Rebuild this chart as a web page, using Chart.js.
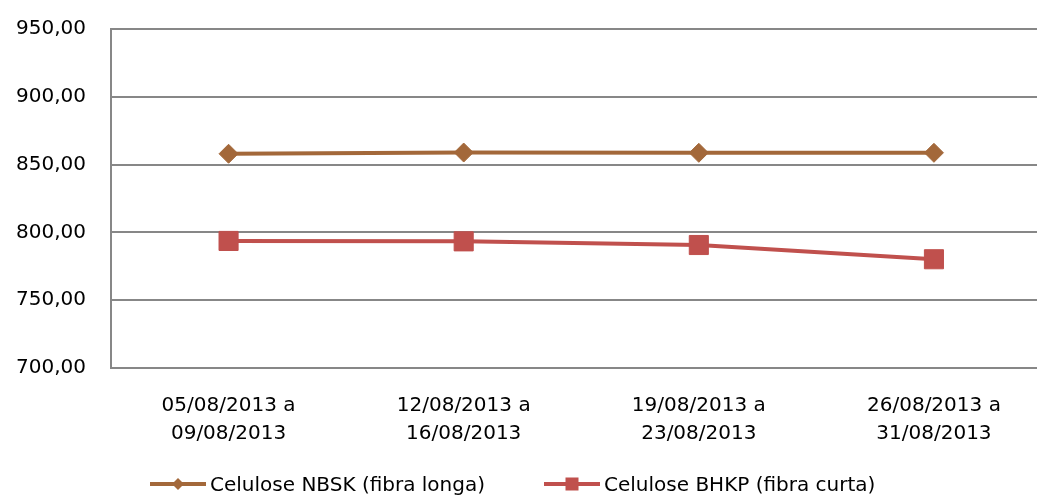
<!DOCTYPE html>
<html>
<head>
<meta charset="utf-8">
<script src="https://cdn.jsdelivr.net/npm/chart.js@4"></script>
<style>
  html, body { margin: 0; padding: 0; background: #fff; }
  #wrap { position: relative; width: 1037px; height: 496px; overflow: hidden; }
  #chart { position: absolute; left: 0; top: 0; }
  .legend-item { position: absolute; top: 472px; display: flex; align-items: center;
    font-family: "DejaVu Sans", sans-serif; font-size: 20px; color: #000; white-space: nowrap; }
  .legend-item svg { margin-right: 4px; }
</style>
</head>
<body>
<div id="wrap">
  <canvas id="chart" width="1066" height="496"></canvas>
  <div id="legend"></div>
</div>
<script>
// Weekly ranges (two-line category labels)
const categories = [
  ['05/08/2013 a', '09/08/2013'],
  ['12/08/2013 a', '16/08/2013'],
  ['19/08/2013 a', '23/08/2013'],
  ['26/08/2013 a', '31/08/2013']
];
const seriesNames = ['Celulose NBSK (fibra longa)', 'Celulose BHKP (fibra curta)'];
const nbskValues = [858.0, 858.9, 858.7, 858.7];
const bhkpValues = [793.7, 793.4, 790.7, 780.2];
const yTickValues = [700, 750, 800, 850, 900, 950];
const yTickLabels = ['700,00', '750,00', '800,00', '850,00', '900,00', '950,00'];

const NBSK_COLOR = '#A3683A';
const BHKP_COLOR = '#C0504D';
const GRID = '#878787';
const FONT = { family: '"DejaVu Sans", sans-serif', size: 20 };

const chart = new Chart(document.getElementById('chart'), {
  type: 'line',
  data: {
    labels: categories,
    datasets: [
      {
        label: seriesNames[0],
        data: nbskValues,
        borderColor: NBSK_COLOR,
        backgroundColor: NBSK_COLOR,
        borderWidth: 4,
        pointStyle: 'rectRot',
        pointRadius: 9.5,
        pointBorderWidth: 1,
        pointBackgroundColor: NBSK_COLOR,
        pointBorderColor: NBSK_COLOR,
        tension: 0
      },
      {
        label: seriesNames[1],
        data: bhkpValues,
        borderColor: BHKP_COLOR,
        backgroundColor: BHKP_COLOR,
        borderWidth: 4,
        pointStyle: 'rect',
        pointRadius: 13.5,
        pointBorderWidth: 1,
        pointBackgroundColor: BHKP_COLOR,
        pointBorderColor: BHKP_COLOR,
        tension: 0
      }
    ]
  },
  options: {
    responsive: false,
    animation: false,
    layout: { padding: { top: 29, right: 1, left: 0, bottom: 0 } },
    plugins: { legend: { display: false }, tooltip: { enabled: false } },
    scales: {
      x: {
        offset: true,
        grid: { display: false, drawTicks: false },
        border: { display: true, color: GRID, width: 2 },
        ticks: { color: '#000', font: { ...FONT, lineHeight: 1.4 }, padding: 24, maxRotation: 0, autoSkip: false },
        afterFit(scale) { scale.height = 128; }
      },
      y: {
        min: 700,
        max: 950,
        afterBuildTicks(scale) { scale.ticks = yTickValues.map(v => ({ value: v })); },
        grid: { color: GRID, lineWidth: 2, drawTicks: false },
        border: { display: true, color: GRID, width: 2 },
        ticks: {
          color: '#000',
          font: FONT,
          padding: 25,
          callback: (v) => yTickLabels[yTickValues.indexOf(v)]
        },
        afterFit(scale) {
          scale.width = 111;
          scale.paddingTop = 0;
          scale.paddingBottom = 0;
        }
      }
    }
  }
});

// Legend: line with a marker in the middle, followed by the series name
const legendPos = [150, 544];
const legend = document.getElementById('legend');
chart.data.datasets.forEach((ds, i) => {
  const item = document.createElement('div');
  item.className = 'legend-item';
  item.style.left = legendPos[i] + 'px';
  const marker = ds.pointStyle === 'rectRot'
    ? '<polygon points="28,4 34,10 28,16 22,10" fill="' + ds.borderColor + '"/>'
    : '<rect x="21.5" y="3.5" width="13" height="13" fill="' + ds.borderColor + '"/>';
  item.innerHTML =
    '<svg width="56" height="20" viewBox="0 0 56 20">' +
    '<line x1="0" y1="10" x2="56" y2="10" stroke="' + ds.borderColor + '" stroke-width="4"/>' +
    marker + '</svg><span>' + ds.label + '</span>';
  legend.appendChild(item);
});
</script>
</body>
</html>
